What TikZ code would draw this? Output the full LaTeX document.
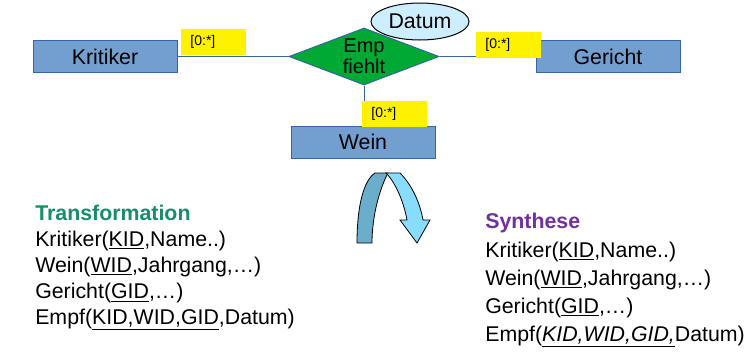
\documentclass[tikz,border=0pt]{standalone}
\usepackage{fontspec}
\setmainfont{Liberation Sans}
\usetikzlibrary{shapes.geometric}

\definecolor{boxblue}{RGB}{114,159,207}
\definecolor{boxline}{RGB}{52,101,164}
\definecolor{relgreen}{RGB}{0,169,51}
\definecolor{attrblue}{RGB}{204,238,255}
\definecolor{transgreen}{RGB}{24,140,110}
\definecolor{synpurple}{RGB}{112,48,160}
\definecolor{arrowdark}{RGB}{106,174,204}
\definecolor{arrowlight}{RGB}{136,221,255}

\begin{document}
\begin{tikzpicture}[
        x=0.75pt, y=-0.75pt,
        every node/.style={
            font=\fontsize{16}{19}\selectfont
        },
        entity/.style={draw=boxline, line width=0.75pt, fill=boxblue, minimum width=108pt, minimum height=24pt, inner sep=0pt},
        relation/.style={diamond, draw=boxline, line width=0.75pt, fill=relgreen, aspect=2.6, minimum width=112.5pt, minimum height=42.75pt, inner sep=0pt, align=center, font=\fontsize{15}{16}\selectfont},
        attribute/.style={ellipse, draw=black, line width=0.75pt, fill=attrblue, minimum width=73.5pt, minimum height=27.75pt, inner sep=0pt},
        card/.style={fill=yellow, anchor=north west, minimum width=48.75pt, minimum height=19.5pt, text width=35pt, inner xsep=6.75pt, inner ysep=0pt, align=left, font=\fontsize{10.5}{12}\selectfont},
        link/.style={draw=boxline, line width=0.75pt},
        schema/.style={anchor=north west, inner sep=0pt, align=left}
    ]
        \useasboundingbox (0,0) rectangle (752,361);

        % ER diagram
        \node[entity] (kritiker) at (105,56.5) {Kritiker};
        \node[entity] (gericht) at (608,56.5) {Gericht};
        \node[entity] (wein) at (363,142) {Wein};
        \node[relation] (empf) at (364,56.5) {Emp\\fiehlt};
        \node[attribute] (datum) at (420,21.5) {Datum};

        \draw[link] (kritiker) -- (empf);
        \draw[link] (empf) -- (gericht);
        \draw[link] (empf.south) -- (empf.south |- wein.north);

        % cardinalities
        \node[card] (cardk) at (181,29) {[0:*]};
        \node[card] (cardg) at (476,32) {[0:*]};
        \node[card] (cardw) at (362,101) {[0:*]};

        % turn arrow
        \draw[fill=arrowdark, line width=0.6pt] (357,243) .. controls (357,205) and (364,180) .. (375,173)
            -- (388,173) .. controls (380,188) and (372,215) .. (372,243) -- cycle;
        \draw[fill=arrowlight, line width=0.6pt] (386,173) -- (400,173) .. controls (412,185) and (420,203) .. (423,220)
            -- (430,220) -- (417,243) -- (400,220) -- (407,220) .. controls (404,203) and (396,183) .. (386,173) -- cycle;

        % Transformation
        \node[schema, font=\fontsize{16}{19.5}\selectfont] (trans) at (35,205) {%
            {\color{transgreen}\textbf{Transformation}}\\
            Kritiker(\underline{KID},Name..)\\
            Wein(\underline{WID},Jahrgang,…)\\
            Gericht(\underline{GID},…)\\
            Empf(\underline{KID,WID,GID},Datum)};

        % Synthese
        \node[schema, font=\fontsize{16}{21.2}\selectfont] (synth) at (485,213) {%
            {\color{synpurple}\textbf{Synthese}}\\
            Kritiker(\underline{KID},Name..)\\
            Wein(\underline{WID},Jahrgang,…)\\
            Gericht(\underline{GID},…)\\
            Empf(\underline{\textit{KID,WID,GID,}}Datum)};

    \end{tikzpicture}
\end{document}
